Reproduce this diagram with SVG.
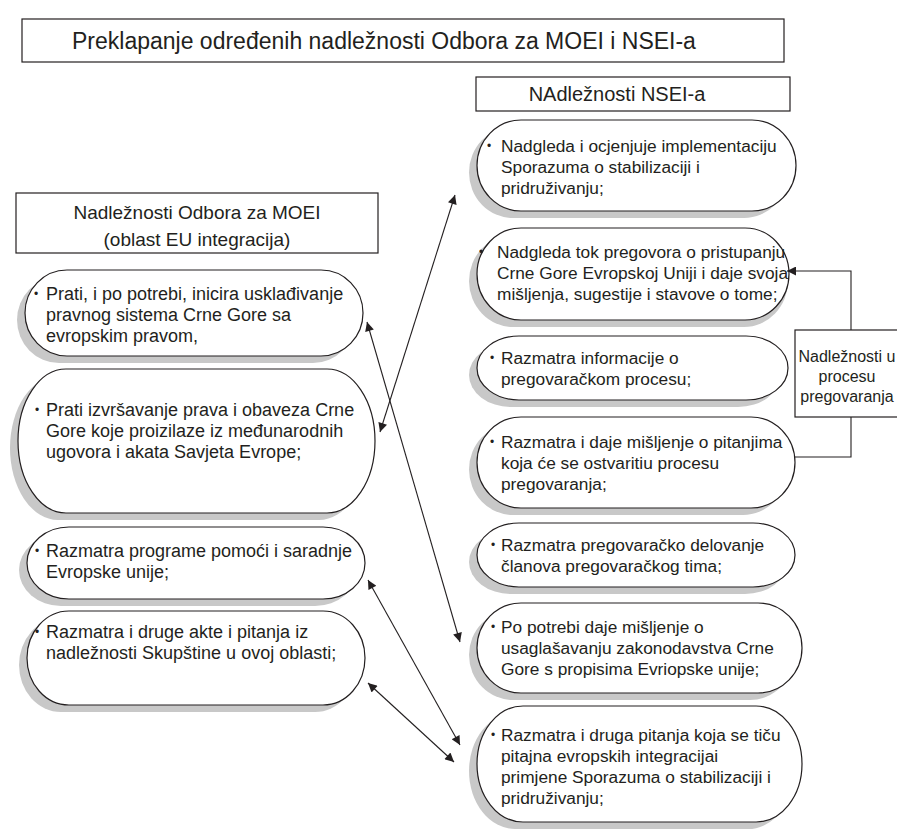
<svg xmlns="http://www.w3.org/2000/svg" width="897" height="832" viewBox="0 0 897 832">
<defs>
<style>
.box{fill:#fff;stroke:#231f20;stroke-width:1.2}
.pill{fill:#fff;stroke:#231f20;stroke-width:1.2}
.sh{fill:#c8c8c8;stroke:none}
text{font-family:"Liberation Sans",Arial,sans-serif;fill:#231f20}
.t{font-size:17.3px}
.tl{font-size:18px}
.b{font-size:12px}
.h{font-size:19px;text-anchor:middle}
.c{stroke:#231f20;stroke-width:1.1;fill:none}
</style>
<marker id="ah" viewBox="0 0 10 10" refX="10" refY="5" markerWidth="11" markerHeight="9" markerUnits="userSpaceOnUse" orient="auto-start-reverse">
<path d="M0,0 L10,5 L0,10 z" fill="#231f20"/>
</marker>
</defs>
<rect width="897" height="832" fill="#fff"/>

<g id="title">
<rect class="box" x="22" y="19" width="762" height="43"/>
<text x="72" y="49" style="font-size:23px">Preklapanje određenih nadležnosti Odbora za MOEI i NSEI-a</text>
</g>

<g id="hdr-nsei">
<rect class="box" x="476" y="77" width="314" height="34"/>
<text x="617" y="101" style="font-size:20px;text-anchor:middle">NAdležnosti NSEI-a</text>
</g>

<g id="hdr-moei">
<rect class="box" x="16" y="193" width="362" height="60"/>
<text class="h" x="197" y="219">Nadležnosti Odbora za MOEI</text>
<text class="h" x="197" y="246">(oblast EU integracija)</text>
</g>

<g id="l1">
<rect class="sh" x="17" y="277" width="338" height="86" rx="42" ry="43"/>
<rect class="pill" x="25" y="270" width="338" height="86" rx="42" ry="43"/>
<text class="b" x="34" y="298">•</text>
<text class="tl"><tspan x="46" y="300">Prati, i po potrebi, inicira usklađivanje</tspan><tspan x="46" y="321">pravnog sistema Crne Gore sa</tspan><tspan x="46" y="342">evropskim pravom,</tspan></text>
</g>

<g id="l2">
<rect class="sh" x="10" y="376" width="357" height="144" rx="48" ry="72"/>
<rect class="pill" x="18" y="369" width="357" height="144" rx="48" ry="72"/>
<text class="b" x="35" y="414">•</text>
<text class="tl"><tspan x="46" y="416">Prati izvršavanje prava i obaveza Crne</tspan><tspan x="46" y="437">Gore koje proizilaze iz međunarodnih</tspan><tspan x="46" y="458">ugovora i akata Savjeta Evrope;</tspan></text>
</g>

<g id="l3">
<rect class="sh" x="19" y="534" width="338" height="72" rx="42" ry="36"/>
<rect class="pill" x="27" y="527" width="338" height="72" rx="42" ry="36"/>
<text class="b" x="35" y="555">•</text>
<text class="tl"><tspan x="46" y="557">Razmatra programe pomoći i saradnje</tspan><tspan x="46" y="578">Evropske unije;</tspan></text>
</g>

<g id="l4">
<rect class="sh" x="19" y="618" width="338" height="94" rx="42" ry="47"/>
<rect class="pill" x="27" y="611" width="338" height="94" rx="42" ry="47"/>
<text class="b" x="35" y="636">•</text>
<text class="tl"><tspan x="46" y="638">Razmatra i druge akte i pitanja iz</tspan><tspan x="46" y="659">nadležnosti Skupštine u ovoj oblasti;</tspan></text>
</g>

<g id="r1">
<rect class="sh" x="469" y="127" width="319" height="91" rx="44" ry="45.5"/>
<rect class="pill" x="477" y="120" width="319" height="91" rx="44" ry="45.5"/>
<text class="b" x="487" y="150">•</text>
<text class="t"><tspan x="501" y="152">Nadgleda i ocjenjuje implementaciju</tspan><tspan x="501" y="173">Sporazuma o stabilizaciji i</tspan><tspan x="501" y="194">pridruživanju;</tspan></text>
</g>

<g id="r2">
<rect class="sh" x="469" y="235" width="319" height="92" rx="44" ry="46"/>
<rect class="pill" x="477" y="228" width="312" height="92" rx="44" ry="46"/>
<text class="b" x="479" y="256">•</text>
<text class="t"><tspan x="497" y="258">Nadgleda tok pregovora o pristupanju</tspan><tspan x="497" y="279">Crne Gore Evropskoj Uniji i daje svoja</tspan><tspan x="497" y="300">mišljenja, sugestije i stavove o tome;</tspan></text>
</g>

<g id="r3">
<rect class="sh" x="469" y="343" width="311" height="64" rx="42" ry="32"/>
<rect class="pill" x="477" y="336" width="311" height="64" rx="42" ry="32"/>
<text class="b" x="490" y="362">•</text>
<text class="t"><tspan x="501" y="364">Razmatra informacije o</tspan><tspan x="501" y="385">pregovaračkom procesu;</tspan></text>
</g>

<g id="r4">
<rect class="sh" x="469" y="424" width="318" height="91" rx="44" ry="45.5"/>
<rect class="pill" x="477" y="417" width="318" height="91" rx="44" ry="45.5"/>
<text class="b" x="490" y="446">•</text>
<text class="t"><tspan x="501" y="448">Razmatra i daje mišljenje o pitanjima</tspan><tspan x="501" y="469">koja će se ostvaritiu procesu</tspan><tspan x="501" y="490">pregovaranja;</tspan></text>
</g>

<g id="r5">
<rect class="sh" x="469" y="530" width="318" height="64" rx="42" ry="32"/>
<rect class="pill" x="477" y="523" width="318" height="64" rx="42" ry="32"/>
<text class="b" x="491" y="549">•</text>
<text class="t"><tspan x="501" y="551">Razmatra pregovaračko delovanje</tspan><tspan x="501" y="572">članova pregovaračkog tima;</tspan></text>
</g>

<g id="r6">
<rect class="sh" x="469" y="610" width="325" height="90" rx="44" ry="45"/>
<rect class="pill" x="477" y="603" width="325" height="90" rx="44" ry="45"/>
<text class="b" x="491" y="631">•</text>
<text class="t"><tspan x="501" y="633">Po potrebi daje mišljenje o</tspan><tspan x="501" y="654">usaglašavanju zakonodavstva Crne</tspan><tspan x="501" y="675">Gore s propisima Evriopske unije;</tspan></text>
</g>

<g id="r7">
<rect class="sh" x="469" y="713" width="325" height="116" rx="46" ry="58"/>
<rect class="pill" x="477" y="706" width="325" height="116" rx="46" ry="58"/>
<text class="b" x="491" y="739">•</text>
<text class="t"><tspan x="501" y="741">Razmatra i druga pitanja koja se tiču</tspan><tspan x="501" y="762">pitajna evropskih integracijai</tspan><tspan x="501" y="783">primjene Sporazuma o stabilizaciji i</tspan><tspan x="501" y="804">pridruživanju;</tspan></text>
</g>

<g id="side">
<rect class="box" x="795" y="330" width="106" height="87"/>
<text x="847" y="362" style="font-size:16px;text-anchor:middle">Nadležnosti u</text>
<text x="847" y="382" style="font-size:16px;text-anchor:middle">procesu</text>
<text x="847" y="402" style="font-size:16px;text-anchor:middle">pregovaranja</text>
</g>

<g id="connectors">
<line class="c" x1="380" y1="432" x2="455" y2="195" marker-start="url(#ah)" marker-end="url(#ah)"/>
<line class="c" x1="367" y1="322" x2="460" y2="642" marker-start="url(#ah)" marker-end="url(#ah)"/>
<line class="c" x1="368" y1="580" x2="460" y2="745" marker-start="url(#ah)" marker-end="url(#ah)"/>
<line class="c" x1="368" y1="683" x2="454" y2="762" marker-start="url(#ah)" marker-end="url(#ah)"/>
<polyline class="c" points="851,330 851,271 787,271" marker-end="url(#ah)"/>
<polyline class="c" points="851,417 851,457 794,457"/>
</g>
</svg>
